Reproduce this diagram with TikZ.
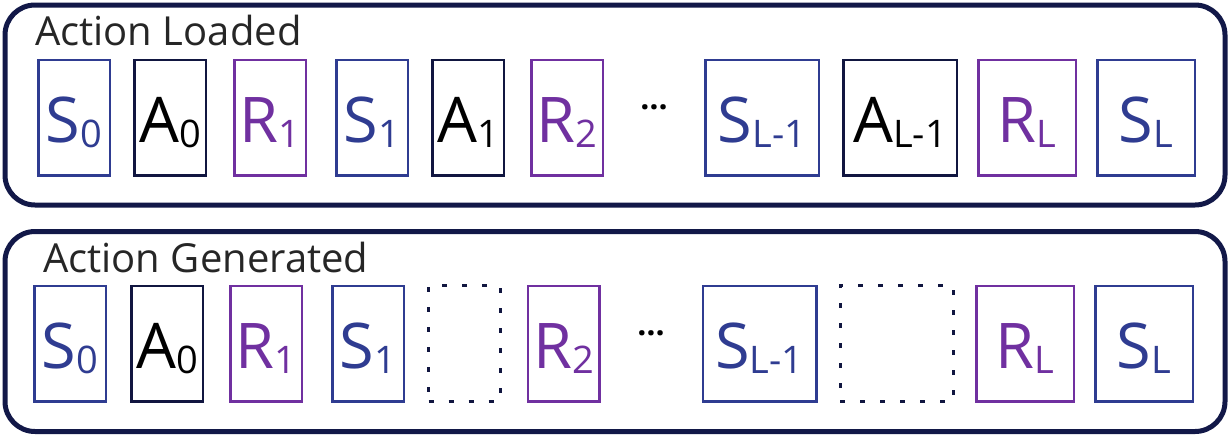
\documentclass[tikz,border=0pt]{standalone}
\usepackage{fontspec}
\setmainfont{Open Sans}
\usepackage{tikz}
\usetikzlibrary{positioning,calc}

\definecolor{frame}{RGB}{18,24,72}
\definecolor{sblue}{RGB}{47,60,145}
\definecolor{anavy}{RGB}{17,22,64}
\definecolor{rpurple}{RGB}{112,48,160}
\definecolor{titlegray}{RGB}{38,38,38}

\newcommand{\subidx}[1]{\raisebox{-5pt}{\fontsize{38}{38}\selectfont #1}}

\tikzstyle{cell}=[rectangle,draw,line width=2.5pt,minimum width=71.5pt,minimum height=115.5pt,inner sep=0pt,text height=55pt,text depth=5pt,font=\fontsize{63}{63}\selectfont]

\begin{document}
\begin{tikzpicture}[x=1pt,y=-1pt]

\tikzstyle{panel} = [draw=frame, line width=5pt, rounded corners=30pt, minimum width=1220pt, minimum height=200pt]
\tikzstyle{heading} = [inner sep=0pt, text=titlegray, font=\fontsize{40}{40}\selectfont]
\tikzstyle{scell} = [cell, draw=sblue, text=sblue]
\tikzstyle{acell} = [cell, draw=anavy, text=black]
\tikzstyle{rcell} = [cell, draw=rpurple, text=rpurple]
\tikzstyle{blank} = [cell, draw=anavy, line width=3pt, dash pattern=on 5pt off 15pt]
\tikzstyle{widecell} = [minimum width=113.5pt]
\tikzstyle{midcell} = [minimum width=97.5pt]
\tikzstyle{ellip} = [inner sep=0pt, yshift=10pt, font=\fontsize{32}{32}\selectfont\bfseries]

\useasboundingbox (0,0) rectangle (1231,437);

% Action loaded
\node [panel] (loaded) at (615,105) {};
\node [heading, anchor=base west] (ltitle) at (35,45) {Action Loaded};
\node [scell] (s0) at (74,117.5) {S\subidx{0}};
\node [acell, right=22pt of s0] (a0) {A\subidx{0}};
\node [rcell, right=26pt of a0] (r1) {R\subidx{1}};
\node [scell, right=28pt of r1] (s1) {S\subidx{1}};
\node [acell, right=22pt of s1] (a1) {A\subidx{1}};
\node [rcell, right=25pt of a1] (r2) {R\subidx{2}};
\node [scell, widecell, right=100pt of r2] (sl1) {S\subidx{L-1}};
\node [ellip] (dots) at ($(r2.east)!0.5!(sl1.west)$) {…};
\node [acell, widecell, right=22pt of sl1] (al1) {A\subidx{L-1}};
\node [rcell, midcell, right=19pt of al1] (rl) {R\subidx{L}};
\node [scell, midcell, right=19pt of rl] (sl) {S\subidx{L}};

% Action generated
\node [panel] (generated) at (615,331.5) {};
\node [heading, anchor=base west] (gtitle) at (43,272) {Action Generated};
\node [scell] (gs0) at (70,343.5) {S\subidx{0}};
\node [acell, right=23pt of gs0] (ga0) {A\subidx{0}};
\node [rcell, right=25pt of ga0] (gr1) {R\subidx{1}};
\node [scell, right=28pt of gr1] (gs1) {S\subidx{1}};
\node [blank, right=22pt of gs1] (gx1) {};
\node [rcell, right=25pt of gx1] (gr2) {R\subidx{2}};
\node [scell, widecell, right=101pt of gr2] (gsl1) {S\subidx{L-1}};
\node [ellip] (gdots) at ($(gr2.east)!0.5!(gsl1.west)$) {…};
\node [blank, widecell, right=21pt of gsl1] (gx2) {};
\node [rcell, midcell, right=20pt of gx2] (grl) {R\subidx{L}};
\node [scell, midcell, right=19pt of grl] (gsl) {S\subidx{L}};

\end{tikzpicture}
\end{document}
